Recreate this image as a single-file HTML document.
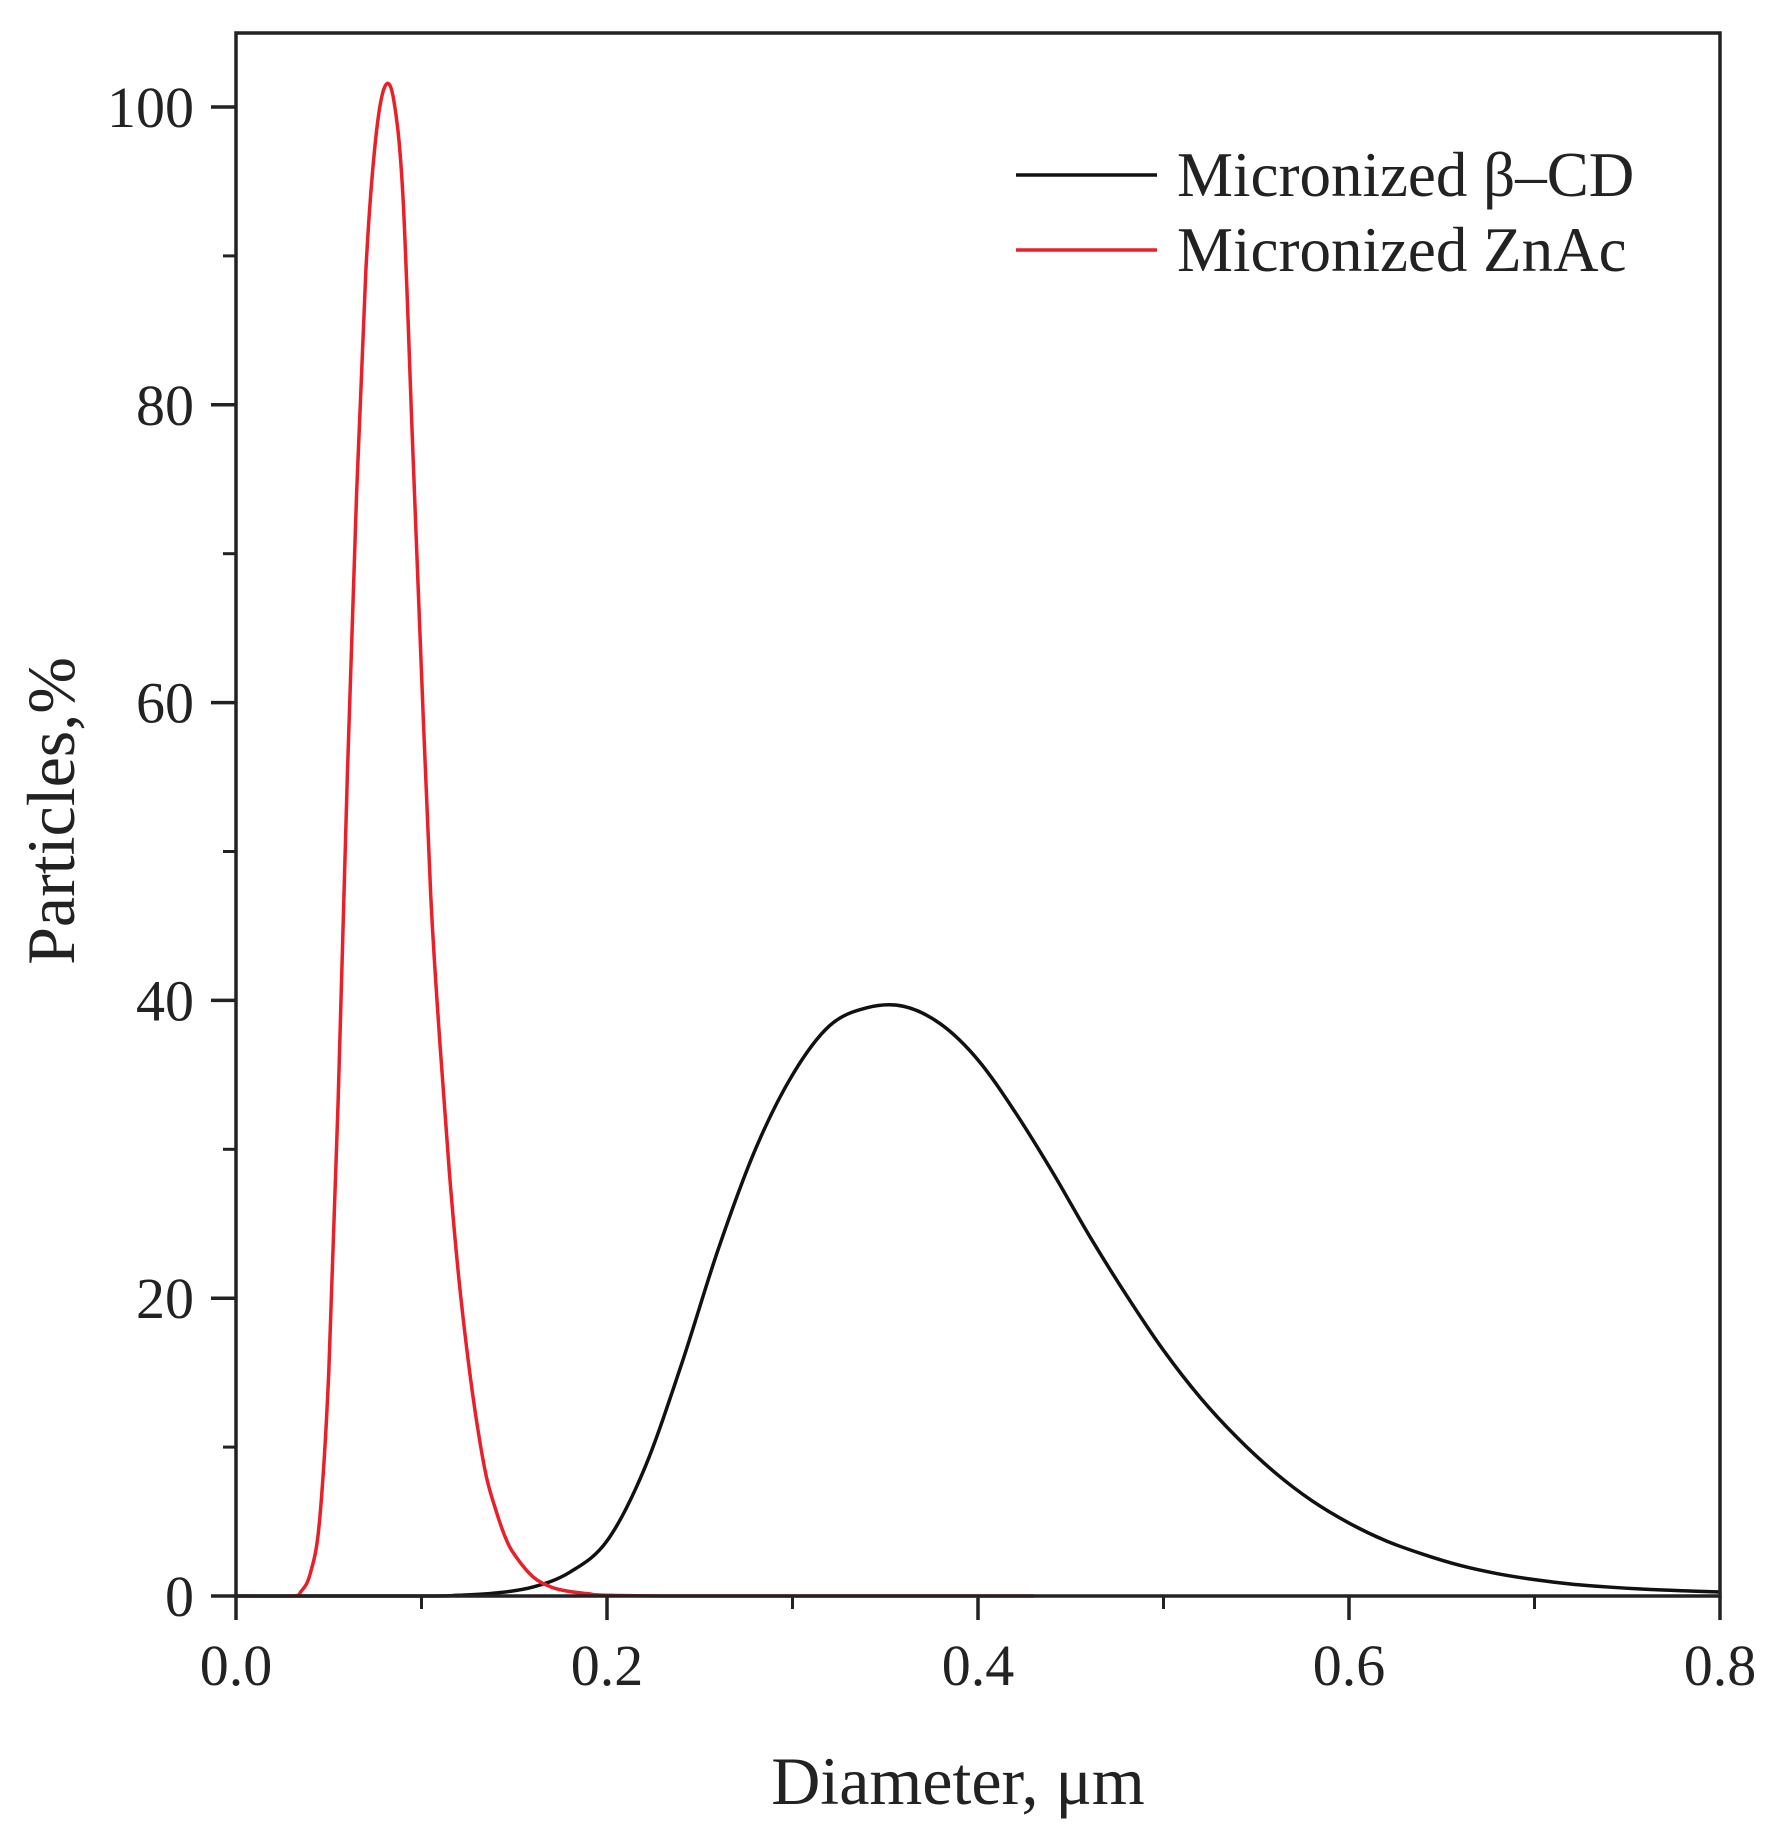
<!DOCTYPE html>
<html><head><meta charset="utf-8"><style>
html,body{margin:0;padding:0;background:#fff;}
svg{display:block;font-family:"Liberation Serif",serif;}
</style></head><body>
<svg id="chart" width="1776" height="1843" viewBox="0 0 1776 1843" xmlns="http://www.w3.org/2000/svg">
<g id="axes"></g><g id="series"></g>
<rect x="236" y="33" width="1484" height="1563" fill="none" stroke="#222" stroke-width="3.5"/>
<text x="958" y="1804" font-size="68" text-anchor="middle" fill="#222">Diameter, μm</text>
<text transform="translate(74,811) rotate(-90)" font-size="68" text-anchor="middle" fill="#222">Particles,%</text>
<g>
<line x1="1016" y1="175" x2="1157" y2="175" stroke="#111" stroke-width="3.5"/>
<text x="1177" y="196" font-size="63" fill="#222">Micronized β–CD</text>
<line x1="1016" y1="250" x2="1157" y2="250" stroke="#e8202a" stroke-width="3.5"/>
<text x="1177" y="271" font-size="63" fill="#222">Micronized ZnAc</text>
</g>
</svg>
<script>
const xTicks=[0,0.2,0.4,0.6,0.8];
const xTickLabels=["0.0","0.2","0.4","0.6","0.8"];
const xMinor=[0.1,0.3,0.5,0.7];
const yTicks=[0,20,40,60,80,100];
const yTickLabels=["0","20","40","60","80","100"];
const yMinor=[10,30,50,70,90];
const znacX=[0,0.03,0.035,0.04,0.045,0.05,0.055,0.06,0.065,0.07,0.075,0.08,0.085,0.09,0.095,0.1,0.105,0.11,0.115,0.12,0.125,0.13,0.135,0.14,0.145,0.15,0.16,0.17,0.18,0.19,0.2,0.25,0.43];
const znacY=[0,0,0.3,1.5,5,15,33,55,74,89,97.5,101.3,100.5,94,78,62,47,37,28.5,21.5,16,11.5,8,5.8,4,2.8,1.3,0.6,0.3,0.15,0.05,0,0];
const bcdX=[0,0.1,0.12,0.14,0.16,0.18,0.2,0.22,0.24,0.26,0.28,0.3,0.32,0.34,0.36,0.38,0.4,0.42,0.44,0.46,0.48,0.5,0.52,0.54,0.56,0.58,0.6,0.62,0.64,0.66,0.68,0.7,0.72,0.74,0.76,0.78,0.8];
const bcdY=[0,0,0.05,0.2,0.6,1.6,3.7,8.5,15.5,23.3,30,35,38.3,39.5,39.6,38.4,36,32.5,28.5,24.2,20.2,16.5,13.3,10.6,8.3,6.4,4.9,3.7,2.8,2.05,1.5,1.1,0.8,0.6,0.45,0.35,0.27];

const X0=236,X1=1720,Y0=1596,Y100=107;
const sx=v=>X0+(v-0)/0.8*(X1-X0);
const sy=v=>Y0-v/100*(Y0-Y100);
const NS='http://www.w3.org/2000/svg';
const axes=document.getElementById('axes'),ser=document.getElementById('series');
function mk(tag,attrs,parent){const e=document.createElementNS(NS,tag);for(const k in attrs)e.setAttribute(k,attrs[k]);parent.appendChild(e);return e;}
xTicks.forEach((v,i)=>{
  const t=mk('line',{x1:sx(v),x2:sx(v),y1:Y0,y2:Y0+24,stroke:'#222','stroke-width':3.5},axes);
  
  
  const l=mk('text',{x:sx(v),y:1685,'font-size':58,'text-anchor':'middle',fill:'#222'},axes);
  l.textContent=xTickLabels[i];
  
  
});
xMinor.forEach(v=>{
  const t=mk('line',{x1:sx(v),x2:sx(v),y1:Y0,y2:Y0+13,stroke:'#222','stroke-width':3},axes);
  
  
});
yTicks.forEach((v,i)=>{
  const t=mk('line',{x1:X0-25,x2:X0,y1:sy(v),y2:sy(v),stroke:'#222','stroke-width':3.5},axes);
  
  
  const l=mk('text',{x:194,y:sy(v)+20,'font-size':58,'text-anchor':'end',fill:'#222'},axes);
  l.textContent=yTickLabels[i];
  
  
});
yMinor.forEach(v=>{
  const t=mk('line',{x1:X0-13,x2:X0,y1:sy(v),y2:sy(v),stroke:'#222','stroke-width':3},axes);
  
  
});
function pathD(xs,ys){
  const p=xs.map((x,i)=>[sx(x),sy(ys[i])]);
  let d='M'+p[0][0]+','+p[0][1];
  for(let i=0;i<p.length-1;i++){
    const a=p[Math.max(i-1,0)],b=p[i],c=p[i+1],e=p[Math.min(i+2,p.length-1)];
    const c1=[b[0]+(c[0]-a[0])/6,b[1]+(c[1]-a[1])/6],c2=[c[0]-(e[0]-b[0])/6,c[1]-(e[1]-b[1])/6];
    d+=' C'+c1[0]+','+c1[1]+' '+c2[0]+','+c2[1]+' '+c[0]+','+c[1];
  }
  return d;
}
const pb=mk('path',{d:pathD(bcdX,bcdY),fill:'none',stroke:'#111','stroke-width':3.5,'stroke-linejoin':'round'},ser);


const pz=mk('path',{d:pathD(znacX,znacY),fill:'none',stroke:'#e8202a','stroke-width':3.5,'stroke-linejoin':'round'},ser);


</script>
</body></html>
